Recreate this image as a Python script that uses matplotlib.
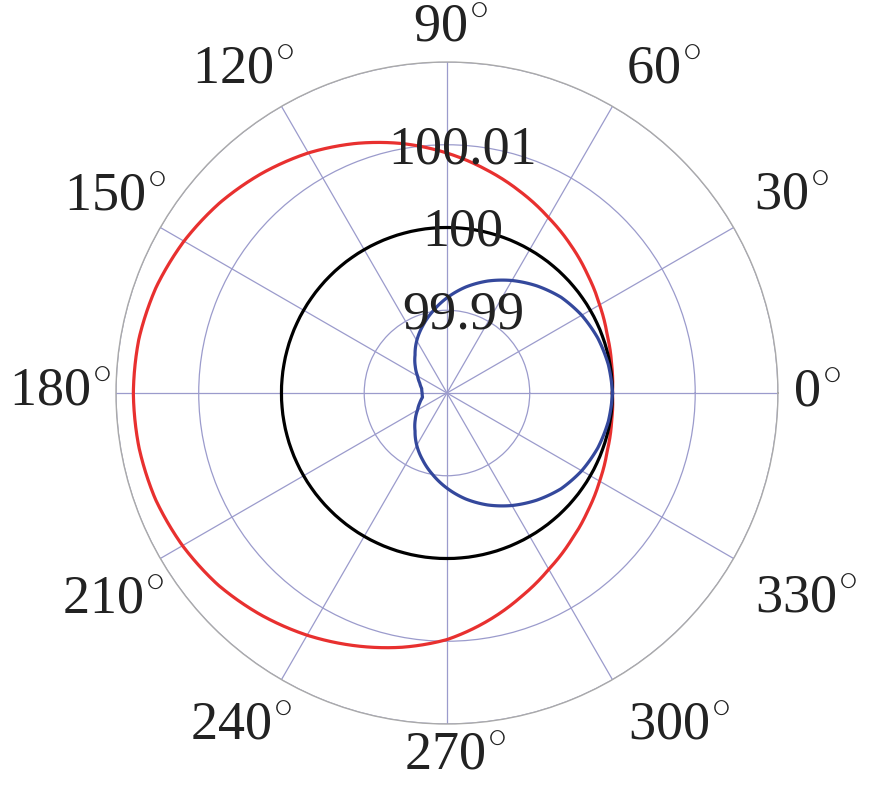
"""
Diagrama polar das três curvas (valores lidos da figura de referência)
"""

import numpy as np
import matplotlib
matplotlib.use("Agg")
import matplotlib.pyplot as plt

plt.rcParams["font.family"] = ["Liberation Serif", "DejaVu Serif"]
plt.rcParams["mathtext.fontset"] = "cm"

######################################################################
# dados

angulos_graus = list(range(0, 361, 10))

# curva vermelha
r_vermelho = [100.0000, 100.0002, 100.0006, 100.0013, 100.0022, 100.0033,
              100.0045, 100.0059, 100.0074, 100.0090, 100.0106, 100.0121,
              100.0135, 100.0147, 100.0158, 100.0167, 100.0174, 100.0178,
              100.0179, 100.0178, 100.0175, 100.0169, 100.0161, 100.0150,
              100.0138, 100.0125, 100.0112, 100.0098, 100.0080, 100.0062,
              100.0046, 100.0033, 100.0022, 100.0013, 100.0006, 100.0002,
              100.0000]

# curva preta (constante)
r_preto = [100.0] * len(angulos_graus)

# curva azul
r_azul = [100.0000, 99.9998, 99.9994, 99.9988, 99.9980, 99.9969,
          99.9957, 99.9944, 99.9930, 99.9915, 99.9900, 99.9886,
          99.9873, 99.9860, 99.9850, 99.9841, 99.9835, 99.9831,
          99.9830, 99.9830, 99.9835, 99.9841, 99.9850, 99.9860,
          99.9873, 99.9886, 99.9900, 99.9915, 99.9930, 99.9944,
          99.9957, 99.9969, 99.9980, 99.9988, 99.9994, 99.9998,
          100.0000]

r_ticks = [99.99, 100.0, 100.01, 100.02]
r_rotulos = ["99.99", "100", "100.01"]
theta_ticks = list(range(0, 360, 30))

# deslocamento (px) do centro de cada rótulo angular em relação ao polo
desloc_rotulos = {0: (370, -1), 30: (345, 196), 60: (217, 322), 90: (4, 364),
                  120: (-204, 322), 150: (-332, 195), 180: (-387, 0),
                  210: (-334, -208), 240: (-206, -334), 270: (8, -364),
                  300: (232, -334), 330: (359, -207)}

######################################################################

def grafico_polar(salvar_em: str = "out.png") -> None:
    """
    Gera o gráfico polar
    """
    fig = plt.figure(figsize=(8.7, 8.05), dpi=100)
    ax = fig.add_axes([0.1333, 0.1006, 0.7609, 0.8224], projection="polar")

    theta = np.deg2rad(angulos_graus)
    linhas = []
    linhas += ax.plot(theta, r_vermelho, color="#e8302f", lw=2.3, zorder=3)
    linhas += ax.plot(theta, r_preto, color="black", lw=2.3, zorder=3)
    linhas += ax.plot(theta, r_azul, color="#34489c", lw=2.3, zorder=4)
    # traça os segmentos como curvas no espaço polar
    for ln in linhas:
        ln.get_path()._interpolation_steps = 40

    ax.set_rlim(99.98, 100.02)
    ax.set_rticks(r_ticks)
    ax.set_yticklabels([])
    ax.set_thetagrids(theta_ticks, [""] * len(theta_ticks))

    ax.grid(True, color="#9b9bcc", lw=0.9)
    ax.spines["polar"].set_color("#aaaaaa")
    ax.spines["polar"].set_linewidth(1.0)

    # rótulos angulares
    for a in theta_ticks:
        dx, dy = desloc_rotulos[a]
        ax.annotate(f"{a}$^{{\\circ}}$", xy=(0, 99.98), xytext=(dx, dy),
                    textcoords="offset pixels", ha="center", va="center",
                    fontsize=39, color="#222222", annotation_clip=False)

    # rótulos radiais sobre o eixo de 90°
    for r, txt in zip(r_ticks, r_rotulos):
        ax.annotate(txt, xy=(np.pi / 2, r), xytext=(16, -5),
                    textcoords="offset pixels", ha="center", va="center",
                    fontsize=39, color="#222222", zorder=5)

    fig.savefig(salvar_em, dpi=100, facecolor="white")


grafico_polar()
